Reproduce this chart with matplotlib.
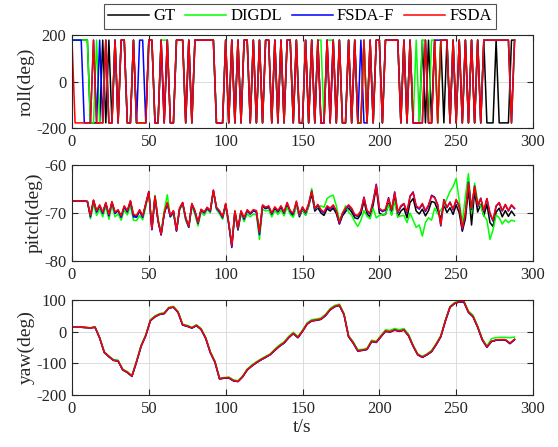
import numpy as np
import matplotlib
matplotlib.use("Agg")
import matplotlib.pyplot as plt

plt.rcParams['font.family'] = ['Liberation Serif', 'DejaVu Serif']
plt.rcParams['axes.unicode_minus'] = False

# ---- data ----
labels = ["GT", "DIGDL", "FSDA-F", "FSDA"]
colors = ["#000000", "#00ff00", "#0000ff", "#ff0000"]

t2 = np.arange(0, 289, 2)      # roll / pitch sample times
t3 = np.arange(0, 289, 3)      # yaw sample times

U, D = 178, -178               # the two roll levels (wrap-around)

roll_gt = [U, U, U, U, U, U, D, D, D, D,
           U, D, U, D, U, D, U, U, D, D,
           U, D, D, D, D, U, U, D, D, U,
           D, U, D, D, U, U, U, D, U, D,
           U, U, U, U, U, U, U, D, D, D,
           U, D, U, D, U, D, U, U, D, U,
           D, U, D, U, U, D, U, D, U, D,
           U, U, D, U, D, D, U, D, U, D,
           U, D, D, U, D, U, D, U, D, D,
           U, D, U, D, D, U, D, U, D, U,
           U, D, U, U, U, U, U, D, U, D,
           U, D, D, D, U, D, U, D, U, D,
           U, D, U, D, U, D, U, D, U, D,
           U, D, U, D, U, D, D, D, U, D,
           D, D, D, U, U]
roll_digdl = [U, U, U, U, U, U, D, D, U, D,
              D, U, D, D, U, D, U, U, D, D,
              U, D, D, D, D, U, U, D, D, U,
              U, U, D, D, U, U, U, D, U, D,
              U, U, U, U, U, U, U, D, D, D,
              U, D, U, D, U, D, U, U, D, U,
              D, U, D, U, U, D, U, D, U, D,
              U, U, D, U, D, D, U, D, U, D,
              U, U, D, U, U, U, D, U, D, D,
              U, D, U, D, D, U, D, U, D, U,
              U, D, U, U, U, U, U, D, U, D,
              U, D, U, D, U, U, D, U, U, D,
              U, U, U, D, U, D, U, D, U, D,
              U, D, U, D, U, U, U, U, U, U,
              U, U, U, D, U]
roll_fsdaf = [U, U, U, U, D, D, D, U, D, U,
              D, U, D, D, U, D, U, U, D, D,
              U, D, U, U, D, U, U, D, D, U,
              D, U, D, D, U, U, U, D, U, D,
              U, U, U, U, U, U, U, D, D, D,
              U, D, U, D, U, D, U, U, D, U,
              D, U, D, U, U, D, U, D, U, D,
              U, U, D, U, D, D, U, D, U, D,
              U, D, D, U, D, U, D, U, D, D,
              U, D, U, D, U, D, D, U, D, U,
              U, D, U, U, U, U, U, D, U, D,
              U, D, D, D, D, U, D, D, U, U,
              U, U, U, D, U, D, U, D, U, D,
              U, D, U, D, U, U, U, U, U, U,
              U, U, U, D, U]
roll_fsda = [U, D, D, D, D, D, D, U, D, D,
             D, U, D, D, U, D, U, U, D, D,
             U, D, D, D, D, U, U, D, D, U,
             D, U, D, D, U, U, U, D, U, D,
             U, U, U, U, U, U, U, D, D, D,
             U, D, U, D, U, D, U, U, D, U,
             D, U, D, U, U, D, U, D, U, D,
             U, U, D, U, D, D, U, D, U, D,
             U, D, D, U, D, U, D, U, D, D,
             U, D, U, D, D, U, D, U, D, U,
             U, D, U, U, U, U, U, D, U, D,
             U, D, D, D, D, U, D, D, U, D,
             U, U, U, D, U, D, U, D, U, D,
             U, D, U, D, U, U, U, U, U, U,
             U, U, U, D, U]

pitch_gt = [-67.5, -67.5, -67.5, -67.5, -67.5, -67.6, -70.7, -67.4, -69.7, -68.5,
            -70.0, -68.0, -70.5, -67.8, -70.0, -69.5, -70.8, -68.7, -69.7, -67.6,
            -70.5, -70.7, -69.5, -70.8, -68.2, -65.7, -73.4, -66.6, -71.6, -74.5,
            -70.1, -68.0, -70.7, -69.6, -73.7, -69.1, -67.9, -71.1, -72.9, -68.1,
            -69.7, -72.1, -69.3, -69.9, -68.9, -69.6, -65.4, -68.9, -69.7, -70.9,
            -68.2, -72.2, -76.9, -69.7, -73.4, -69.7, -71.2, -69.5, -70.2, -69.5,
            -69.8, -74.2, -68.6, -69.1, -68.8, -70.3, -69.0, -69.8, -68.8, -70.2,
            -68.3, -70.0, -70.6, -68.2, -70.8, -69.3, -70.4, -68.6, -66.0, -69.6,
            -68.9, -70.0, -70.5, -69.1, -69.6, -69.0, -70.1, -72.3, -70.6, -69.7,
            -69.0, -69.8, -71.0, -71.2, -70.2, -67.5, -70.2, -70.8, -68.3, -64.6,
            -70.0, -70.4, -70.3, -68.0, -70.3, -66.8, -70.8, -69.6, -69.0, -71.0,
            -67.8, -67.0, -69.6, -70.2, -69.2, -70.6, -69.5, -67.6, -67.8, -69.4,
            -71.2, -68.3, -69.9, -68.9, -70.3, -68.3, -70.0, -73.8, -71.2, -65.0,
            -72.5, -65.5, -69.8, -68.2, -70.6, -68.2, -72.0, -72.8, -69.8, -69.0,
            -70.8, -69.5, -70.7, -69.6, -70.5]
pitch_digdl = [-67.5, -67.5, -67.5, -67.5, -67.5, -67.6, -71.2, -68.2, -70.5, -69.2,
               -70.8, -68.6, -71.3, -68.4, -70.8, -70.2, -71.5, -69.4, -70.4, -68.5,
               -71.5, -71.6, -70.5, -71.4, -68.8, -65.8, -73.0, -66.3, -71.2, -74.2,
               -69.5, -66.2, -70.8, -70.2, -73.4, -69.3, -68.3, -71.6, -73.0, -68.6,
               -70.3, -72.7, -69.8, -70.5, -69.3, -70.0, -65.5, -69.3, -70.2, -71.3,
               -68.6, -72.4, -76.5, -70.0, -73.6, -70.2, -71.8, -70.2, -70.8, -70.2,
               -70.4, -75.5, -69.2, -69.6, -69.4, -70.8, -69.5, -70.3, -69.4, -70.6,
               -68.8, -70.3, -70.9, -68.4, -70.5, -69.2, -70.5, -68.6, -64.9, -69.2,
               -68.8, -68.5, -68.8, -67.0, -66.5, -66.3, -68.5, -71.5, -70.2, -68.5,
               -69.8, -70.5, -71.8, -72.8, -71.5, -69.5, -70.7, -71.2, -69.0, -71.0,
               -70.5, -70.3, -70.2, -68.3, -70.5, -67.5, -70.8, -70.6, -70.5, -72.0,
               -70.0, -71.5, -73.0, -72.5, -74.8, -72.0, -71.0, -71.5, -69.0, -70.2,
               -69.4, -68.5, -67.0, -65.5, -64.5, -62.8, -67.5, -72.0, -66.5, -61.8,
               -70.0, -63.8, -67.5, -68.6, -70.5, -71.5, -75.5, -73.5, -70.4, -71.0,
               -72.3, -71.4, -72.0, -71.5, -71.7]
pitch_fsdaf = [-67.5, -67.5, -67.5, -67.5, -67.5, -67.6, -70.8, -67.4, -69.8, -68.5,
               -70.1, -68.0, -70.6, -67.8, -70.1, -69.5, -70.9, -68.7, -69.8, -67.6,
               -70.8, -70.9, -69.6, -70.9, -68.2, -65.5, -73.5, -66.6, -71.7, -74.6,
               -70.2, -68.0, -70.8, -69.7, -73.8, -69.2, -67.9, -71.2, -73.0, -68.2,
               -69.8, -72.2, -69.4, -70.0, -69.0, -69.7, -65.3, -69.0, -69.8, -71.0,
               -68.2, -72.3, -77.2, -69.7, -73.5, -69.7, -71.3, -69.5, -70.2, -69.5,
               -69.8, -74.5, -68.5, -69.0, -68.7, -70.2, -68.9, -69.7, -68.6, -70.0,
               -67.9, -69.7, -70.2, -67.7, -70.4, -68.9, -70.0, -68.2, -65.4, -69.2,
               -68.4, -69.5, -70.0, -68.7, -69.2, -68.5, -69.7, -72.2, -70.2, -69.2,
               -68.5, -69.2, -70.5, -70.7, -69.7, -66.7, -69.7, -70.2, -67.6, -64.0,
               -69.2, -69.7, -69.4, -66.8, -69.5, -65.6, -70.0, -68.7, -68.1, -70.0,
               -66.5, -65.6, -68.7, -69.2, -68.2, -69.7, -68.5, -66.3, -66.7, -68.4,
               -72.7, -67.2, -68.9, -67.7, -69.4, -67.3, -68.7, -73.5, -70.2, -63.6,
               -69.2, -64.4, -68.7, -66.9, -69.7, -67.0, -70.2, -71.7, -68.6, -67.9,
               -69.6, -68.3, -69.6, -68.4, -69.1]
pitch_fsda = [-67.5, -67.5, -67.5, -67.5, -67.5, -67.6, -70.5, -67.3, -69.5, -68.3,
              -69.8, -67.8, -70.3, -67.6, -69.8, -69.3, -70.6, -68.5, -69.5, -67.4,
              -70.3, -70.5, -69.3, -70.6, -68.0, -65.6, -73.3, -66.5, -71.5, -74.4,
              -70.0, -67.8, -70.5, -69.5, -73.6, -69.0, -67.8, -71.0, -72.8, -68.0,
              -69.5, -72.0, -69.2, -69.8, -68.8, -69.5, -65.2, -68.8, -69.5, -70.8,
              -68.0, -72.0, -76.8, -69.5, -73.2, -69.5, -71.0, -69.3, -70.0, -69.3,
              -69.5, -74.0, -68.3, -68.8, -68.5, -70.0, -68.7, -69.5, -68.5, -69.8,
              -67.8, -69.5, -70.0, -67.5, -70.2, -68.7, -69.8, -68.0, -65.5, -69.0,
              -68.2, -69.3, -69.8, -68.5, -69.0, -68.3, -69.5, -72.0, -70.0, -69.0,
              -68.3, -69.0, -70.3, -70.5, -69.5, -66.8, -69.5, -70.0, -67.5, -64.2,
              -69.0, -69.5, -69.2, -67.0, -69.3, -65.8, -69.8, -68.5, -68.0, -69.8,
              -66.5, -65.8, -68.5, -69.0, -68.0, -69.5, -68.3, -66.5, -66.8, -68.2,
              -72.5, -67.3, -68.8, -67.8, -69.2, -67.2, -68.5, -73.2, -70.0, -63.8,
              -69.0, -64.5, -68.5, -67.0, -69.5, -67.0, -70.0, -71.5, -68.5, -67.8,
              -69.5, -68.2, -69.5, -68.3, -69.0]

yaw_gt = [14, 14, 14, 13, 12, 14, -20, -65, -79, -90,
          -93, -120, -129, -141, -95, -45, -12, 35, 47, 55,
          57, 75, 78, 61, 21, 17, 12, 19, 7, -21,
          -66, -96, -149, -147, -146, -155, -157, -143, -121, -108,
          -98, -89, -81, -72, -59, -46, -36, -19, -6, -19,
          1, 24, 34, 36, 39, 51, 69, 79, 83, 54,
          -16, -36, -61, -59, -56, -31, -34, -16, 1, -1,
          5, 1, 5, -13, -46, -73, -81, -73, -63, -41,
          -16, 34, 77, 89, 94, 94, 61, 47, 14, -26,
          -49, -31, -27, -26, -26, -38, -25]
yaw_digdl = [14, 14, 14, 13, 12, 15, -18, -63, -77, -88,
             -90, -118, -126, -138, -92, -42, -10, 38, 50, 57,
             60, 77, 80, 64, 24, 20, 14, 22, 10, -18,
             -63, -93, -146, -145, -143, -152, -155, -140, -118, -105,
             -95, -86, -78, -70, -55, -42, -32, -15, -2, -15,
             5, 28, 38, 40, 43, 55, 73, 83, 87, 58,
             -12, -32, -57, -56, -52, -27, -30, -12, 6, 4,
             10, 6, 10, -8, -42, -70, -78, -70, -59, -37,
             -12, 38, 80, 92, 97, 98, 65, 52, 18, -22,
             -45, -22, -19, -18, -18, -19, -17]
yaw_fsdaf = [14, 14, 14, 13, 12, 14, -20, -66, -79, -91,
             -93, -121, -129, -141, -96, -46, -13, 34, 47, 54,
             57, 74, 77, 61, 21, 17, 11, 19, 7, -21,
             -66, -96, -149, -147, -146, -155, -158, -143, -121, -109,
             -98, -89, -81, -73, -59, -46, -36, -19, -6, -19,
             1, 24, 34, 36, 39, 51, 69, 79, 83, 54,
             -16, -36, -61, -59, -56, -31, -34, -16, 1, -1,
             5, 1, 5, -13, -46, -73, -81, -73, -63, -41,
             -16, 34, 77, 89, 94, 94, 61, 47, 14, -26,
             -49, -31, -27, -26, -26, -37, -25]
yaw_fsda = [14, 14, 14, 13, 12, 14, -20, -65, -78, -90,
            -92, -120, -128, -140, -95, -45, -12, 35, 48, 55,
            58, 75, 78, 62, 22, 18, 12, 20, 8, -20,
            -65, -95, -148, -146, -145, -154, -157, -142, -120, -108,
            -97, -88, -80, -72, -58, -45, -35, -18, -5, -18,
            2, 25, 35, 37, 40, 52, 70, 80, 84, 55,
            -15, -35, -60, -58, -55, -30, -33, -15, 2, 0,
            6, 2, 6, -12, -45, -72, -80, -72, -62, -40,
            -15, 35, 78, 90, 95, 95, 62, 48, 15, -25,
            -48, -30, -26, -25, -25, -36, -24]

panels = [
    ("roll(deg)", t2, [roll_gt, roll_digdl, roll_fsdaf, roll_fsda], (-200, 200), [-200, 0, 200]),
    ("pitch(deg)", t2, [pitch_gt, pitch_digdl, pitch_fsdaf, pitch_fsda], (-80, -60), [-80, -70, -60]),
    ("yaw(deg)", t3, [yaw_gt, yaw_digdl, yaw_fsdaf, yaw_fsda], (-200, 100), [-200, -100, 0, 100]),
]

# ---- figure ----
W, H = 558, 447
fig = plt.figure(figsize=(W / 100, H / 100), dpi=100)

# axes boxes in pixels: (left, top, right, bottom)
boxes = [(72, 35, 533, 128), (72, 165, 533, 261), (72, 300, 533, 395)]

ink = "#262626"
handles = []
for (ylab, tt, series, ylim, yticks), (l, tp, r, b) in zip(panels, boxes):
    ax = fig.add_axes([l / W, 1 - b / H, (r - l) / W, (b - tp) / H])
    for y, c, lab in zip(series, colors, labels):
        h, = ax.plot(tt, y, color=c, lw=1.1, label=lab)
        if len(handles) < 4:
            handles.append(h)
    ax.set_xlim(0, 300)
    ax.set_ylim(*ylim)
    ax.set_xticks(range(0, 301, 50))
    ax.set_yticks(yticks)
    ax.grid(True, color="#dcdcdc", lw=0.7)
    ax.set_axisbelow(True)
    for s in ax.spines.values():
        s.set_color(ink)
        s.set_linewidth(0.8)
    ax.tick_params(direction="in", top=True, right=True, length=4, width=0.8,
                   color=ink, labelcolor=ink, labelsize=12, pad=4)
    ax.set_ylabel(ylab, fontsize=14, color=ink, labelpad=1)

ax.set_xlabel("t/s", fontsize=14, color=ink, labelpad=2)

leg = fig.legend(handles, labels, loc="center", bbox_to_anchor=(300 / W, 1 - 16.5 / H),
                 ncol=4, fontsize=12, frameon=True, fancybox=False, handlelength=2.45,
                 handletextpad=0.25, columnspacing=0.6, borderpad=0.25, borderaxespad=0)
leg.get_frame().set_edgecolor(ink)
leg.get_frame().set_linewidth(0.8)

fig.savefig("out.png", dpi=100)
